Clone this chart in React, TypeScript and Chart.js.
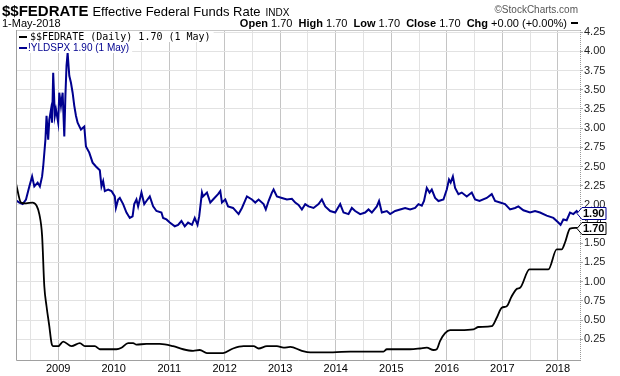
import React, { useEffect, useRef } from "react";
import { Chart, registerables } from "chart.js";

Chart.register(...registerables);

// ---------- DATA ----------
// $$FEDRATE (Effective Federal Funds Rate), decimal years
const fedYears = [
  2008.24, 2008.33, 2008.42, 2008.54, 2008.61, 2008.66, 2008.71, 2008.75, 2008.79, 2008.84, 2008.88, 2008.91,
  2009.0, 2009.09, 2009.24, 2009.39, 2009.48, 2009.66, 2009.75,
  2010.05, 2010.14, 2010.26, 2010.35, 2010.41, 2010.59, 2010.83,
  2011.07, 2011.25, 2011.43, 2011.55, 2011.68, 2011.97,
  2012.15, 2012.34, 2012.52, 2012.61, 2012.76, 2012.94,
  2013.06, 2013.18, 2013.39, 2013.54, 2013.95,
  2014.26, 2014.86, 2014.92,
  2015.34, 2015.52, 2015.64, 2015.76, 2015.82, 2015.88, 2015.97,
  2016.06, 2016.24, 2016.48, 2016.57, 2016.81, 2016.9, 2016.99,
  2017.08, 2017.17, 2017.27, 2017.32, 2017.49, 2017.83, 2017.98,
  2018.07, 2018.13, 2018.22, 2018.31, 2018.36,
];
const fedValues = [
  2.28, 2.03, 2.02, 2.03, 1.99, 1.88, 1.6, 0.94, 0.68, 0.42, 0.2, 0.16,
  0.16, 0.22, 0.16, 0.2, 0.16, 0.16, 0.12,
  0.12, 0.14, 0.2, 0.2, 0.18, 0.19, 0.19,
  0.16, 0.12, 0.1, 0.11, 0.07, 0.07,
  0.13, 0.16, 0.16, 0.13, 0.16, 0.16,
  0.14, 0.15, 0.1, 0.08, 0.08,
  0.09, 0.09, 0.12,
  0.12, 0.13, 0.14, 0.11, 0.12, 0.23, 0.33,
  0.37, 0.37, 0.38, 0.41, 0.42, 0.53, 0.66,
  0.68, 0.81, 0.91, 0.92, 1.16, 1.16, 1.42,
  1.42, 1.51, 1.69, 1.7, 1.7,
];

// !YLDSPX (S&P 500 dividend yield), decimal years
const yldYears = [
  2008.24, 2008.3, 2008.36, 2008.42, 2008.48, 2008.53, 2008.57, 2008.63, 2008.67, 2008.71, 2008.73, 2008.77, 2008.79, 2008.82, 2008.84, 2008.87, 2008.89, 2008.91, 2008.94, 2008.96,
  2009.0, 2009.02, 2009.05, 2009.08, 2009.11, 2009.13, 2009.15, 2009.17, 2009.2, 2009.23, 2009.26, 2009.29, 2009.32, 2009.35, 2009.41, 2009.47, 2009.5, 2009.56, 2009.62, 2009.68, 2009.75, 2009.78, 2009.81, 2009.84, 2009.9, 2009.96,
  2010.02, 2010.04, 2010.08, 2010.11, 2010.17, 2010.23, 2010.29, 2010.34, 2010.37, 2010.41, 2010.44, 2010.5, 2010.55, 2010.59, 2010.65, 2010.71, 2010.77, 2010.86, 2010.89, 2010.95,
  2011.01, 2011.1, 2011.16, 2011.22, 2011.28, 2011.34, 2011.41, 2011.46, 2011.51, 2011.54, 2011.59, 2011.61, 2011.68, 2011.74, 2011.79, 2011.88, 2011.92, 2011.95,
  2012.01, 2012.06, 2012.15, 2012.25, 2012.31, 2012.4, 2012.49, 2012.55, 2012.61, 2012.7, 2012.74, 2012.79, 2012.85, 2012.88, 2012.94,
  2013.03, 2013.12, 2013.21, 2013.27, 2013.33, 2013.39, 2013.45, 2013.51, 2013.6, 2013.69, 2013.75, 2013.81, 2013.9, 2013.99,
  2014.08, 2014.14, 2014.23, 2014.29, 2014.35, 2014.44, 2014.53, 2014.59, 2014.65, 2014.74, 2014.78, 2014.83, 2014.92, 2014.98,
  2015.07, 2015.16, 2015.25, 2015.34, 2015.43, 2015.49, 2015.55, 2015.59, 2015.64, 2015.69, 2015.73, 2015.79, 2015.85, 2015.94,
  2016.0, 2016.04, 2016.07, 2016.11, 2016.15, 2016.21, 2016.27, 2016.36, 2016.45, 2016.51, 2016.59, 2016.72, 2016.81, 2016.87, 2016.96,
  2017.05, 2017.14, 2017.23, 2017.29, 2017.38, 2017.5, 2017.59, 2017.68, 2017.8, 2017.92,
  2018.01, 2018.05, 2018.1, 2018.16, 2018.22, 2018.28, 2018.34, 2018.36,
];
const yldValues = [
  2.06, 2.03, 2.01, 2.07, 2.24, 2.37, 2.24, 2.29, 2.24, 2.37, 2.5, 2.85, 3.16, 2.85, 3.11, 3.24, 3.07, 3.72, 3.16, 3.24,
  3.07, 3.46, 3.29, 3.46, 2.89, 3.42, 3.81, 3.98, 3.68, 3.59, 3.46, 3.29, 3.16, 3.07, 2.98, 3.02, 2.76, 2.68, 2.55, 2.5, 2.45, 2.24, 2.31, 2.18, 2.2, 2.18,
  2.11, 1.96, 2.07, 2.09, 2.01, 1.9, 1.83, 1.85, 2.01, 2.07, 1.98, 2.16, 2.01, 2.05, 2.11, 1.98, 1.92, 1.9, 1.83, 1.81,
  1.77, 1.72, 1.74, 1.79, 1.72, 1.77, 1.74, 1.83, 1.74, 1.85, 2.16, 2.11, 2.16, 2.03, 2.07, 2.14, 2.18, 2.03,
  2.07, 1.98, 1.96, 1.88, 1.96, 2.11, 2.07, 2.03, 2.07, 2.01, 1.94, 2.05, 2.16, 2.2, 2.11,
  2.09, 2.07, 2.08, 2.03, 2.0, 1.94, 2.01, 1.98, 1.96, 2.01, 2.07, 1.98, 1.92, 1.9,
  2.01, 1.9, 1.88, 1.96, 1.92, 1.88, 1.9, 1.94, 1.9, 1.98, 2.05, 1.9, 1.92, 1.88,
  1.92, 1.94, 1.96, 1.94, 1.96, 2.01, 1.99, 2.05, 2.22, 2.16, 2.2, 2.09, 2.05, 2.07,
  2.2, 2.33, 2.29, 2.37, 2.22, 2.14, 2.16, 2.11, 2.16, 2.07, 2.05, 2.09, 2.14, 2.05, 2.03,
  2.01, 1.94, 1.96, 1.98, 1.93, 1.9, 1.92, 1.9, 1.86, 1.83,
  1.77, 1.74, 1.81, 1.8, 1.9, 1.88, 1.92, 1.9,
];

const yTickValues = [0.25, 0.5, 0.75, 1.0, 1.25, 1.5, 1.75, 2.0, 2.25, 2.5, 2.75, 3.0, 3.25, 3.5, 3.75, 4.0, 4.25];
const xGridYears = [2008.5, 2009, 2009.5, 2010, 2010.5, 2011, 2011.5, 2012, 2012.5, 2013, 2013.5, 2014, 2014.5, 2015, 2015.5, 2016, 2016.5, 2017, 2017.5, 2018];

const symbol = "$$FEDRATE";
const description = "Effective Federal Funds Rate";
const exchange = "INDX";
const dateLabel = "1-May-2018";
const quoteParts: [string, boolean][] = [
  ["Open", true], [" 1.70  ", false],
  ["High", true], [" 1.70  ", false],
  ["Low", true], [" 1.70  ", false],
  ["Close", true], [" 1.70  ", false],
  ["Chg", true], [" +0.00 (+0.00%) ", false],
];
const copyright = "\u00A9StockCharts.com";
const legendFed = "$$FEDRATE (Daily) 1.70 (1 May)";
const legendYld = "!YLDSPX 1.90 (1 May)";
const fedColor = "#000000";
const yldColor = "#00008f";

const X_MIN = 2008.24;
const X_MAX = 2018.4;
const Y_MIN = -0.02;
const Y_MAX = 4.277;

const FONT = '"Liberation Sans", Arial, sans-serif';

const decorPlugin = {
  id: "decor",
  afterDatasetsDraw(chart: any) {
    const { ctx, chartArea: a, scales } = chart;
    ctx.save();
    // plot border
    ctx.lineWidth = 1;
    ctx.strokeStyle = "#c8c8c8";
    ctx.beginPath();
    ctx.moveTo(a.left, a.top + 0.5);
    ctx.lineTo(a.right, a.top + 0.5);
    ctx.stroke();
    ctx.strokeStyle = "#a0a0a0";
    ctx.beginPath();
    ctx.moveTo(a.left + 0.5, a.top);
    ctx.lineTo(a.left + 0.5, a.bottom + 0.5);
    ctx.lineTo(a.right, a.bottom + 0.5);
    ctx.stroke();
    ctx.setLineDash([1, 1]);
    ctx.strokeStyle = "#999";
    ctx.beginPath();
    ctx.moveTo(a.right + 0.5, a.top);
    ctx.lineTo(a.right + 0.5, a.bottom + 1);
    ctx.stroke();
    ctx.setLineDash([]);

    // legend
    ctx.textBaseline = "alphabetic";
    ctx.font = '10px "DejaVu Sans Mono", monospace';
    const w1 = ctx.measureText(legendFed).width;
    ctx.fillStyle = "#fff";
    ctx.fillRect(a.left + 1, a.top + 1, w1 + 16, 11);
    ctx.fillStyle = fedColor;
    ctx.fillRect(a.left + 3, a.top + 6, 8, 2);
    ctx.fillText(legendFed, a.left + 14, a.top + 10);
    ctx.font = `10px ${FONT}`;
    const w2 = ctx.measureText(legendYld).width;
    ctx.fillStyle = "#fff";
    ctx.fillRect(a.left + 1, a.top + 12, w2 + 14, 11);
    ctx.fillStyle = yldColor;
    ctx.fillRect(a.left + 3, a.top + 17, 8, 2);
    ctx.fillText(legendYld, a.left + 12, a.top + 21);

    // last-value boxes
    const boxes: [number, string][] = [
      [yldValues[yldValues.length - 1], yldColor],
      [fedValues[fedValues.length - 1], fedColor],
    ];
    ctx.font = `bold 11px ${FONT}`;
    ctx.textBaseline = "middle";
    for (const [v, col] of boxes) {
      const y = Math.round(scales.y.getPixelForValue(v)) + 0.5;
      const x0 = a.right - 3;
      ctx.beginPath();
      ctx.moveTo(x0, y);
      ctx.lineTo(x0 + 5, y - 6);
      ctx.lineTo(x0 + 29, y - 6);
      ctx.lineTo(x0 + 29, y + 6);
      ctx.lineTo(x0 + 5, y + 6);
      ctx.closePath();
      ctx.fillStyle = "#fff";
      ctx.fill();
      ctx.strokeStyle = col;
      ctx.lineWidth = 1;
      ctx.stroke();
      ctx.fillStyle = "#000";
      ctx.fillText(v.toFixed(2), x0 + 6, y + 0.5);
    }
    ctx.restore();
  },
  afterDraw(chart: any) {
    const { ctx } = chart;
    ctx.save();
    ctx.textBaseline = "alphabetic";
    ctx.fillStyle = "#000";
    ctx.font = `bold 15px ${FONT}`;
    ctx.fillText(symbol, 2, 16);
    let x = 2 + ctx.measureText(symbol).width + 4;
    ctx.font = `13px ${FONT}`;
    ctx.fillText(description, x, 16);
    x += ctx.measureText(description).width + 5;
    ctx.font = `10px ${FONT}`;
    ctx.fillText(exchange, x, 16);

    ctx.font = `11px ${FONT}`;
    ctx.fillText(dateLabel, 2, 27);

    // quote line, right aligned
    let total = 0;
    for (const [t, b] of quoteParts) {
      ctx.font = `${b ? "bold " : ""}11px ${FONT}`;
      total += ctx.measureText(t).width;
    }
    const right = 570;
    x = right - total;
    for (const [t, b] of quoteParts) {
      ctx.font = `${b ? "bold " : ""}11px ${FONT}`;
      ctx.fillText(t, x, 27);
      x += ctx.measureText(t).width;
    }
    ctx.fillRect(right + 1, 22, 7, 2);

    ctx.font = `10px ${FONT}`;
    ctx.fillStyle = "#555";
    ctx.textAlign = "right";
    ctx.fillText(copyright, 578, 13);
    ctx.restore();
  },
};

export default function App() {
  const ref = useRef<HTMLCanvasElement | null>(null);
  useEffect(() => {
    if (!ref.current) return;
    const fedData = fedYears.map((x, i) => ({ x, y: fedValues[i] }));
    const yldData = yldYears.map((x, i) => ({ x, y: yldValues[i] }));
    const chart = new Chart(ref.current, {
      type: "line",
      data: {
        datasets: [
          {
            label: "$$FEDRATE",
            data: fedData,
            borderColor: fedColor,
            borderWidth: 1.8,
            pointRadius: 0,
            cubicInterpolationMode: "monotone",
            fill: false,
          },
          {
            label: "!YLDSPX",
            data: yldData,
            borderColor: yldColor,
            borderWidth: 2,
            pointRadius: 0,
            tension: 0,
            fill: false,
          },
        ],
      },
      options: {
        responsive: false,
        animation: false,
        events: [],
        layout: { padding: { left: 16, top: 30, right: 0, bottom: 0 } },
        plugins: { legend: { display: false }, tooltip: { enabled: false } },
        scales: {
          x: {
            type: "linear",
            min: X_MIN,
            max: X_MAX,
            afterBuildTicks: (s: any) => {
              s.ticks = xGridYears.map((v) => ({ value: v }));
            },
            afterFit: (s: any) => {
              s.height = 16;
            },
            ticks: {
              autoSkip: false,
              maxRotation: 0,
              padding: 2,
              color: "#000",
              font: { family: FONT, size: 11 },
              callback: (v: any) => {
                const n = Number(v);
                return Math.abs(n - Math.round(n)) < 1e-6 ? String(Math.round(n)) : "";
              },
            },
            grid: {
              drawTicks: false,
              color: (c: any) => {
                const v = c.tick ? c.tick.value : 0;
                return Math.abs(v - Math.round(v)) < 1e-6 ? "#c4c4c4" : "#e2e2e2";
              },
            },
            border: { display: false },
          },
          y: {
            type: "linear",
            position: "right",
            min: Y_MIN,
            max: Y_MAX,
            afterBuildTicks: (s: any) => {
              s.ticks = yTickValues.map((v) => ({ value: v }));
            },
            afterFit: (s: any) => {
              s.width = 40;
            },
            ticks: {
              padding: 1,
              color: "#222",
              font: { family: FONT, size: 11 },
              callback: (v: any) => Number(v).toFixed(2),
            },
            grid: {
              color: "#e2e2e2",
              tickLength: 3,
              tickColor: "#aaa",
            },
            border: { display: false },
          },
        },
      },
      plugins: [decorPlugin],
    } as any);
    return () => chart.destroy();
  }, []);
  return (
    <div style={{ position: "absolute", left: 0, top: 0, width: 620, height: 376, background: "#fff" }}>
      <canvas ref={ref} width={620} height={376} style={{ display: "block" }} />
    </div>
  );
}
